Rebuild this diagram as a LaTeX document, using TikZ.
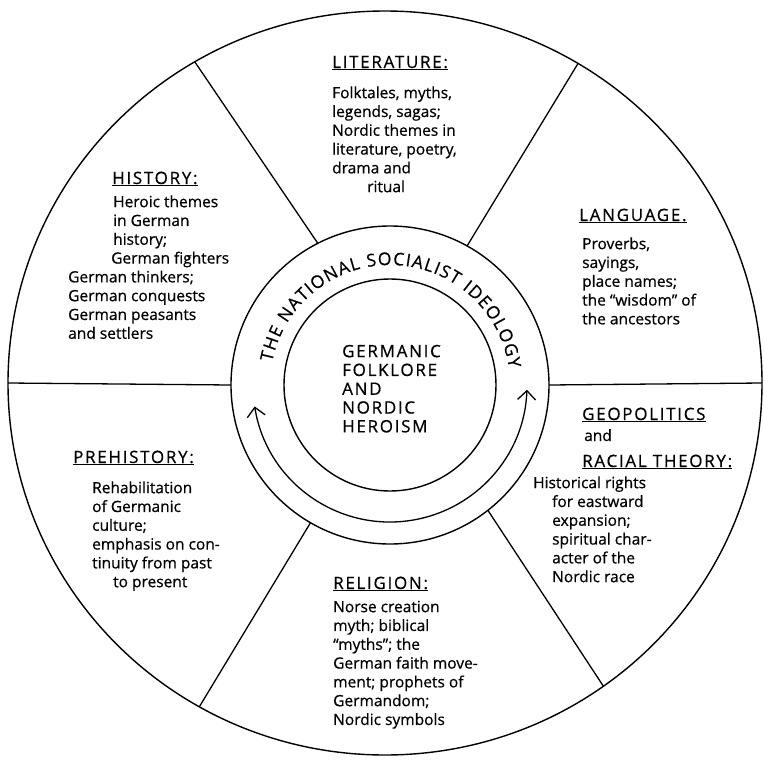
\documentclass[tikz,border=0pt]{standalone}
\usepackage{fontspec}
\setmainfont{Open Sans}[FakeBold=0.6]
\usetikzlibrary{arrows.meta,decorations.text,calc}
\newcommand\bodyfnt{\fontsize{15.5}{18.8}\selectfont}
\newcommand\capfnt{\fontsize{17}{18.8}\selectfont\addfontfeatures{LetterSpace=10}}
\newcommand\ringfnt{\fontsize{17.5}{17.5}\selectfont}
\begin{document}
\begin{tikzpicture}[x=1pt,y=1pt,
  rim/.style={line width=1.4pt},
  divider/.style={line width=1.3pt},
  heading/.style={anchor=base west, inner sep=0pt, font=\capfnt},
  body/.style={anchor=north west, inner sep=0pt, align=left, font=\bodyfnt},
  barb/.style={line width=1.3pt, {Straight Barb[length=9pt,width=18pt]}-{Straight Barb[length=9pt,width=18pt]}}
]
\useasboundingbox (0,0) rectangle (764,-761);
\coordinate (O) at (385,-383);
\coordinate (C) at (390,-385);
\draw[rim] (O) ellipse [x radius=377pt, y radius=372pt];
\draw[rim] (C) circle [radius=159pt];
\draw[rim] (C) circle [radius=106pt];

\foreach \n/\a/\b in {w/180/180, e/0/0, nw/117/120.3, ne/61/59.2, sw/240/240.5, se/-52/-54.6} {
  \coordinate (r\n) at ($(C)+(\a:159pt)$);
  \coordinate (o\n) at ($(O)+(\b:377pt and 372pt)$);
  \draw[divider] (r\n) -- (o\n);
}

\coordinate (arcstart) at ($(C)+(189:137pt)$);
\draw[barb] (arcstart) arc [start angle=189, end angle=358, radius=137pt];

\coordinate (txtstart) at ($(C)+(169:120pt)$);
\path[decorate, decoration={text along path, text={|\ringfnt|THE NATIONAL SOCIALIST IDEOLOGY}, text align={fit to path}}]
  (txtstart) arc [start angle=169, end angle=8, radius=120pt];

\node[body, font=\capfnt] (core) at (342,-343.8) {\strut GERMANIC\\FOLKLORE\\AND\\NORDIC\\HEROISM};

\node[heading] (lith) at (332,-68) {\underline{LITERATURE:}};
\node[body] (litb) at (332,-84.8) {\strut Folktales, myths,\\legends, sagas;\\Nordic themes in\\literature, poetry,\\drama and\\\hspace*{35pt}ritual};

\node[heading] (hish) at (112,-184) {\underline{HISTORY:}};
\node[body] (hisb) at (68,-193.8) {\strut\hspace*{45pt}Heroic themes\\\hspace*{45pt}in German\\\hspace*{45pt}history;\\\hspace*{43pt}German fighters\\German thinkers;\\German conquests\\German peasants\\and settlers};

\node[heading] (lanh) at (579,-221) {\underline{LANGUAGE.}};
\node[body] (lanb) at (582,-235.8) {\strut Proverbs,\\sayings,\\place names;\\the ``wisdom'' of\\the ancestors};

\node[heading] (geoh) at (582,-420) {\underline{GEOPOLITICS}};
\node[heading, font=\bodyfnt] (geoand) at (584,-441) {and};
\node[heading] (rach) at (582,-467) {\underline{RACIAL THEORY:}};
\node[body] (geob) at (533,-474.8) {\strut Historical rights\\\hspace*{19pt}for eastward\\\hspace*{19pt}expansion;\\\hspace*{19pt}spiritual char-\\\hspace*{19pt}acter of the\\\hspace*{19pt}Nordic race};

\node[heading] (preh) at (73,-463) {\underline{PREHISTORY:}};
\node[body] (preb) at (92,-479.8) {\strut Rehabilitation\\of Germanic\\culture;\\emphasis on con-\\tinuity from past\\\hspace*{21pt}to present};

\node[heading] (relh) at (333,-589) {\underline{RELIGION:}};
\node[body] (relb) at (333,-598.8) {\strut Norse creation\\myth; biblical\\``myths''; the\\German faith move-\\ment; prophets of\\Germandom;\\Nordic symbols};
\end{tikzpicture}
\end{document}
